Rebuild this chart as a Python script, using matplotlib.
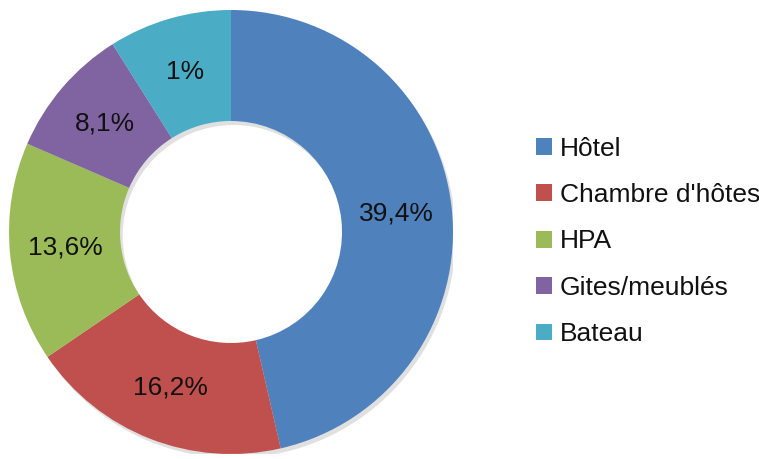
import matplotlib
matplotlib.use("Agg")
import matplotlib.pyplot as plt
from matplotlib.patches import Patch, Wedge

categories = ["Hôtel", "Chambre d'hôtes", "HPA", "Gites/meublés", "Bateau"]
values = [39.4, 16.2, 13.6, 8.1, 7.6]
value_labels = ["39,4%", "16,2%", "13,6%", "8,1%", "1%"]
colors = ["#4F81BD", "#C0504D", "#9BBB59", "#8064A2", "#4BACC6"]

plt.rcParams['font.family'] = ['Liberation Sans', 'DejaVu Sans']

fig = plt.figure(figsize=(7.59, 4.59), dpi=100)
ax = fig.add_axes([9/759, 5/459, 444/759, 444/459])

# soft drop shadow behind the ring
ax.add_patch(Wedge((0.012, -0.018), 1.0, 0, 360, width=0.5,
                   facecolor='black', alpha=0.12, edgecolor='none', zorder=0))

wedges, texts, autotexts = ax.pie(
    values, colors=colors, startangle=90, counterclock=False,
    radius=1.0, wedgeprops=dict(width=0.5, edgecolor='none', zorder=1),
    autopct='%1.1f', pctdistance=0.75,
    textprops=dict(fontsize=19, color='#111111'))
for t, lab in zip(autotexts, value_labels):
    t.set_text(lab)
    t.set_zorder(3)
ax.set_xlim(-1.0, 1.0)
ax.set_ylim(-1.0, 1.0)
ax.set_aspect('equal')
ax.axis('off')

handles = [Patch(facecolor=c, edgecolor='none') for c in colors]
leg = fig.legend(handles, categories, loc='center left', bbox_to_anchor=(536/759, 0.474),
                 frameon=False, fontsize=19, handlelength=0.6, handleheight=0.6,
                 handletextpad=0.3, labelspacing=0.85, borderaxespad=0, borderpad=0)
for t in leg.get_texts():
    t.set_color('#111111')

fig.savefig("out.png", dpi=100)
